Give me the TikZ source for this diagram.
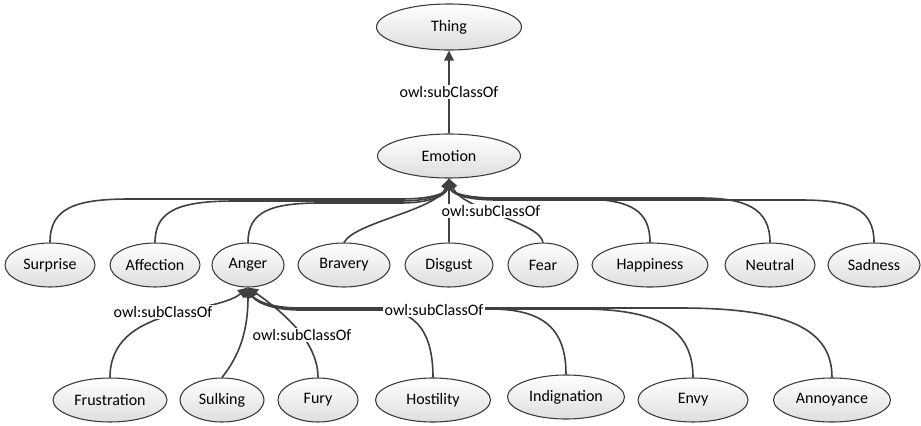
\documentclass[tikz,border=0pt]{standalone}
\usepackage{fontspec}
\setmainfont{Carlito}
\usetikzlibrary{arrows.meta,shapes.geometric}
\definecolor{linegray}{HTML}{404040}
\definecolor{rimgray}{HTML}{3A3A3A}
\def\pxu{0.75pt}
\tikzset{
  cls/.style={ellipse, draw=rimgray, line width=0.8pt, inner sep=0pt,
    top color=white, bottom color=black!13, font=\fontsize{12}{14}\selectfont,
    minimum height=44*\pxu},
  rel/.style={draw=linegray, line width=1.2pt,
    -{Triangle[length=7.5pt,width=7pt]}},
  lbl/.style={fill=white, inner sep=1pt, font=\fontsize{12}{14}\selectfont}
}
\begin{document}
\begin{tikzpicture}[x=0.75pt,y=-0.75pt]
\useasboundingbox (0,0) rectangle (921,425);

% class nodes
\node[cls, minimum width=145*\pxu, minimum height=46*\pxu] (thing) at (449,27) {Thing};
\node[cls, minimum width=143*\pxu] (emotion) at (449,156) {Emotion};

\node[cls, minimum width=90*\pxu]  (surprise)  at (50,265)  {Surprise};
\node[cls, minimum width=90*\pxu]  (affection) at (155,265) {Affection};
\node[cls, minimum width=72*\pxu]  (anger)     at (248,265) {Anger};
\node[cls, minimum width=92*\pxu]  (bravery)   at (344,265) {Bravery};
\node[cls, minimum width=88*\pxu]  (disgust)   at (449,265) {Disgust};
\node[cls, minimum width=70*\pxu]  (fear)      at (543,265) {Fear};
\node[cls, minimum width=116*\pxu] (happiness) at (650,265) {Happiness};
\node[cls, minimum width=90*\pxu]  (neutral)   at (770,265) {Neutral};
\node[cls, minimum width=92*\pxu]  (sadness)   at (874,265) {Sadness};

\node[cls, minimum width=114*\pxu] (frustration) at (110,400) {Frustration};
\node[cls, minimum width=84*\pxu]  (sulking)     at (222,400) {Sulking};
\node[cls, minimum width=80*\pxu]  (fury)        at (318,400) {Fury};
\node[cls, minimum width=115*\pxu] (hostility)   at (433,400) {Hostility};
\node[cls, minimum width=117*\pxu] (indignation) at (566,397) {Indignation};
\node[cls, minimum width=110*\pxu] (envy)        at (693,400) {Envy};
\node[cls, minimum width=117*\pxu] (annoyance)   at (832,400) {Annoyance};

% Emotion subClassOf Thing
\draw[rel] (emotion) -- (thing);

% subclasses of Emotion
\draw[rel] (surprise.north) .. controls (50,208) and (75,199) .. (130,199) -- (400,199)
  .. controls (436,199) and (447,192) .. (emotion.south);
\draw[rel] (affection.north) .. controls (155,210) and (180,201) .. (235,201) -- (400,201)
  .. controls (436,201) and (447,192) .. (emotion.south);
\draw[rel] (anger.north) .. controls (248,212) and (270,203) .. (320,203) -- (400,203)
  .. controls (436,203) and (447,193) .. (emotion.south);
\draw[rel] (bravery.north) .. controls (355,222) and (438,210) .. (emotion.south);
\draw[rel] (disgust) -- (emotion);
\draw[rel] (fear.north) .. controls (540,222) and (462,210) .. (emotion.south);
\draw[rel] (happiness.north) .. controls (650,210) and (630,199) .. (580,199) -- (498,199)
  .. controls (462,199) and (451,192) .. (emotion.south);
\draw[rel] (neutral.north) .. controls (770,208) and (745,198) .. (700,198) -- (498,198)
  .. controls (462,198) and (451,192) .. (emotion.south);
\draw[rel] (sadness.north) .. controls (874,208) and (850,200) .. (800,200) -- (498,200)
  .. controls (462,200) and (451,193) .. (emotion.south);

% subclasses of Anger
\draw[rel] (frustration.north) .. controls (110,305) and (215,315) .. (anger.south);
\draw[rel] (sulking.north) .. controls (240,355) and (248,330) .. (anger.south);
\draw[rel] (fury.north) .. controls (318,340) and (280,310) .. (anger.south);
\draw[rel] (hostility.north) .. controls (433,325) and (410,310) .. (380,310) -- (300,310)
  .. controls (268,310) and (254,300) .. (anger.south);
\draw[rel] (indignation.north) .. controls (566,330) and (545,309) .. (490,309) -- (300,309)
  .. controls (268,309) and (254,299) .. (anger.south);
\draw[rel] (envy.north) .. controls (693,330) and (660,309) .. (580,309) -- (300,309)
  .. controls (268,309) and (254,299) .. (anger.south);
\draw[rel] (annoyance.north) .. controls (832,330) and (790,308) .. (680,308) -- (300,308)
  .. controls (268,308) and (254,299) .. (anger.south);

% relation labels
\node[lbl] (l1) at (449,92)  {owl:subClassOf};
\node[lbl] (l2) at (491,211) {owl:subClassOf};
\node[lbl] (l3) at (163,312) {owl:subClassOf};
\node[lbl] (l4) at (302,335) {owl:subClassOf};
\node[lbl] (l5) at (434,310) {owl:subClassOf};
\end{tikzpicture}
\end{document}
